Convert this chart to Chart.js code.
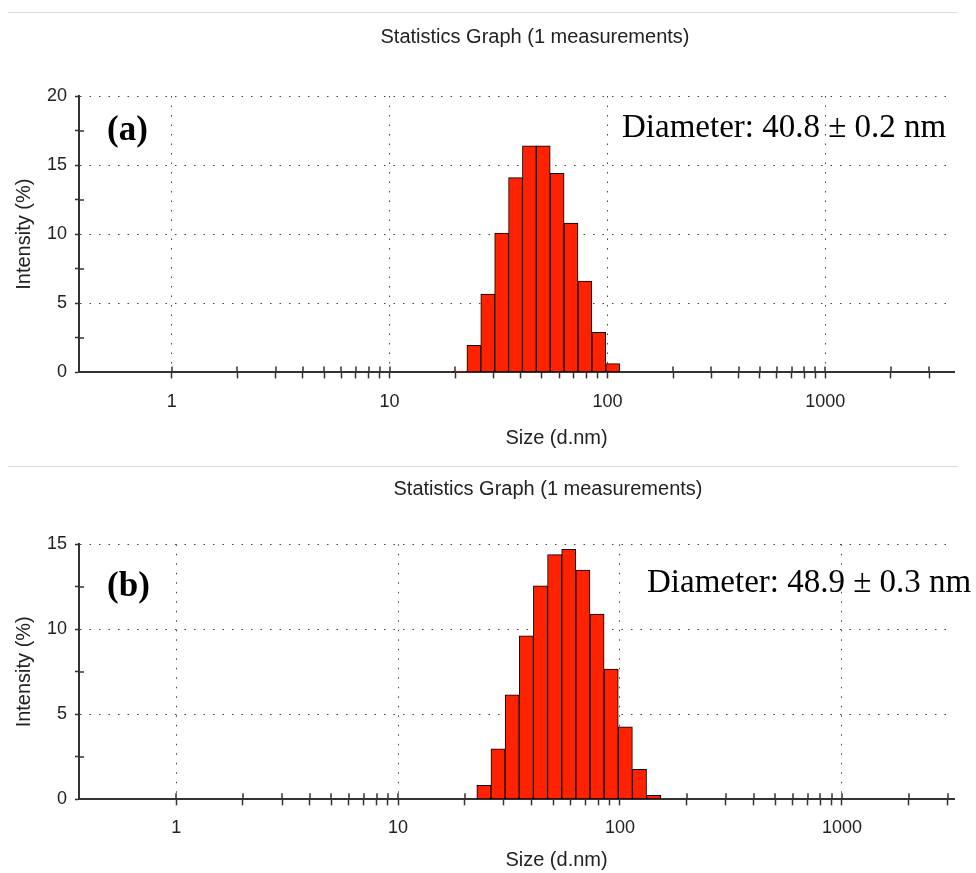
<!DOCTYPE html>
<html>
<head>
<meta charset="utf-8">
<script src="https://cdn.jsdelivr.net/npm/chart.js@4.4.0/dist/chart.umd.min.js"></script>
<style>
  html, body { margin: 0; padding: 0; background: #fff; }
  body { position: relative; width: 976px; height: 873px; overflow: hidden; }
  .rule { position: absolute; left: 8px; width: 950px; border-top: 1px solid #dcdcdc; }
  canvas { position: absolute; left: 0; }
</style>
</head>
<body>
<div class="rule" style="top:12px"></div>
<canvas id="chartA" width="1070" height="448" style="top:14px"></canvas>
<div class="rule" style="top:466px"></div>
<canvas id="chartB" width="1096" height="405" style="top:468px"></canvas>
<script>
// ===== DATA =====
// size bins (d.nm) and intensity (%)
const SIZE_A      = [21.04, 24.36, 28.21, 32.67, 37.84, 43.82, 50.75, 58.77, 68.06, 78.82, 91.28, 105.7];
const INTENSITY_A = [0.1, 1.96, 5.67, 10.09, 14.09, 16.4, 16.4, 14.4, 10.8, 6.6, 2.9, 0.63];

const SIZE_B      = [24.36, 28.21, 32.67, 37.84, 43.82, 50.75, 58.77, 68.06, 78.82, 91.28, 105.7, 122.4, 141.8];
const INTENSITY_B = [0.82, 2.97, 6.14, 9.62, 12.55, 14.39, 14.7, 13.49, 10.9, 7.66, 4.26, 1.76, 0.23];

const X_TICKS  = [1, 2, 3, 4, 5, 6, 7, 8, 9,
                  10, 20, 30, 40, 50, 60, 70, 80, 90,
                  100, 200, 300, 400, 500, 600, 700, 800, 900,
                  1000, 2000, 3000];
const X_LABELS = [1, 10, 100, 1000];
const X_RANGE_A = [0.375, 3900];
const X_RANGE_B = [0.365, 3200];

const Y_MAX_A = 20;
const Y_MAX_B = 15;
const Y_TICK_STEP  = 2.5;
const Y_LABEL_STEP = 5;

const TITLE   = 'Statistics Graph (1 measurements)';
const X_TITLE = 'Size (d.nm)';
const Y_TITLE = 'Intensity (%)';

// ===== STYLE =====
const BAR_RED = '#ff2200';
const AXIS    = '#333';
const GRID    = '#444';
const SANS    = '"Liberation Sans", Arial, sans-serif';
const SERIF   = '"Liberation Serif", "Times New Roman", serif';
const X_TITLE_NUDGE = '\u2002'.repeat(8);   // the source's axis title sits right of centre

Chart.defaults.font.family = SANS;
Chart.defaults.color = '#222';

// short tick marks reaching into the plot area
const innerTicks = {
  id: 'innerTicks',
  beforeDatasetsDraw(chart) {
    const { ctx, chartArea } = chart;
    const { x, y } = chart.scales;
    ctx.save();
    ctx.strokeStyle = AXIS;
    ctx.lineWidth = 1.5;
    ctx.beginPath();
    x.ticks.forEach((t, i) => {
      const px = Math.round(x.getPixelForTick(i));
      ctx.moveTo(px, chartArea.bottom);
      ctx.lineTo(px, chartArea.bottom - 6);
    });
    y.ticks.forEach((t, i) => {
      if (t.value % Y_LABEL_STEP === 0) return;
      const py = Math.round(y.getPixelForTick(i));
      ctx.moveTo(chartArea.left, py);
      ctx.lineTo(chartArea.left + 5, py);
    });
    ctx.stroke();
    ctx.restore();
  },
};

// "(a)" and the diameter note
const panelText = {
  id: 'panelText',
  afterDraw(chart, args, opts) {
    const { ctx, chartArea } = chart;
    ctx.save();
    ctx.fillStyle = '#000';
    ctx.textAlign = 'left';
    ctx.textBaseline = 'alphabetic';
    ctx.font = 'bold 35px ' + SERIF;
    ctx.fillText(opts.letter, chartArea.left + opts.letterDx, chartArea.top + opts.letterDy);
    ctx.font = '33px ' + SERIF;
    ctx.fillText(opts.note, chartArea.left + opts.noteDx, chartArea.top + opts.noteDy);
    ctx.restore();
  },
};

function makeChart(id, sizes, values, xRange, yMax, lay, text) {
  const canvas = document.getElementById(id);
  return new Chart(canvas, {
    type: 'bar',
    data: {
      datasets: [{
        data: sizes.map((s, i) => ({ x: s, y: values[i] })),
        backgroundColor: BAR_RED,
        borderColor: '#000',
        borderWidth: 1,
        borderSkipped: false,
        barThickness: 'flex',
        barPercentage: 1,
        categoryPercentage: 1,
      }],
    },
    options: {
      responsive: false,
      animation: false,
      events: [],
      layout: { padding: 0 },
      plugins: {
        legend: { display: false },
        tooltip: { enabled: false },
        title: {
          display: true,
          text: TITLE,
          font: { size: 20, weight: 'normal' },
          color: '#222',
          padding: { top: lay.titleTop, bottom: lay.titleBottom },
        },
        panelText: text,
      },
      scales: {
        x: {
          type: 'logarithmic',
          offset: false,
          min: xRange[0], max: xRange[1],
          afterBuildTicks: s => { s.ticks = X_TICKS.map(v => ({ value: v })); },
          ticks: {
            autoSkip: false, maxRotation: 0, padding: lay.xTickPad,
            font: { size: 18 },
            callback: v => (X_LABELS.includes(v) ? String(v) : ''),
          },
          grid: {
            offset: false,
            color: c => (c.tick && X_LABELS.includes(c.tick.value) ? GRID : 'rgba(0,0,0,0)'),
            tickColor: AXIS, tickLength: 6, tickWidth: 1.5, lineWidth: 1,
          },
          border: { color: AXIS, width: 2, dash: [1.5, 8] },
          title: {
            display: true, text: X_TITLE_NUDGE + X_TITLE,
            font: { size: 20 },
            padding: { top: lay.xTitleTop, bottom: lay.xTitleBottom },
          },
        },
        y: {
          min: 0, max: yMax,
          ticks: {
            stepSize: Y_TICK_STEP, padding: 8,
            font: { size: 18 },
            callback: v => (v % Y_LABEL_STEP === 0 ? v : ''),
          },
          grid: {
            color: c => (c.tick && c.tick.value % Y_LABEL_STEP === 0 && c.tick.value > 0 ? GRID : 'rgba(0,0,0,0)'),
            tickColor: AXIS, tickLength: 4, tickWidth: 1.5, lineWidth: 1,
          },
          border: { color: AXIS, width: 2, dash: [1.5, 8] },
          title: {
            display: true, text: Y_TITLE,
            font: { size: 20 },
            padding: { top: 12, bottom: 3 },
          },
        },
        // empty right-hand gutter so the plot ends where the reference's does
        gutter: {
          type: 'linear', position: 'right',
          ticks: { display: false }, grid: { display: false }, border: { display: false },
          afterFit: s => { s.width = lay.rightGap; },
        },
      },
    },
    plugins: [innerTicks, panelText],
  });
}

makeChart('chartA', SIZE_A, INTENSITY_A, X_RANGE_A, Y_MAX_A,
  { titleTop: 11, titleBottom: 47, xTickPad: 13, xTitleTop: 0, xTitleBottom: 12, rightGap: 116 },
  { letter: '(a)', letterDx: 28, letterDy: 44, note: 'Diameter: 40.8 ± 0.2 nm', noteDx: 543, noteDy: 41 });

makeChart('chartB', SIZE_B, INTENSITY_B, X_RANGE_B, Y_MAX_B,
  { titleTop: 9, titleBottom: 43.3, xTickPad: 12, xTitleTop: -2.9, xTitleBottom: 1, rightGap: 142 },
  { letter: '(b)', letterDx: 28, letterDy: 52, note: 'Diameter: 48.9 ± 0.3 nm', noteDx: 568, noteDy: 48 });
</script>
</body>
</html>
